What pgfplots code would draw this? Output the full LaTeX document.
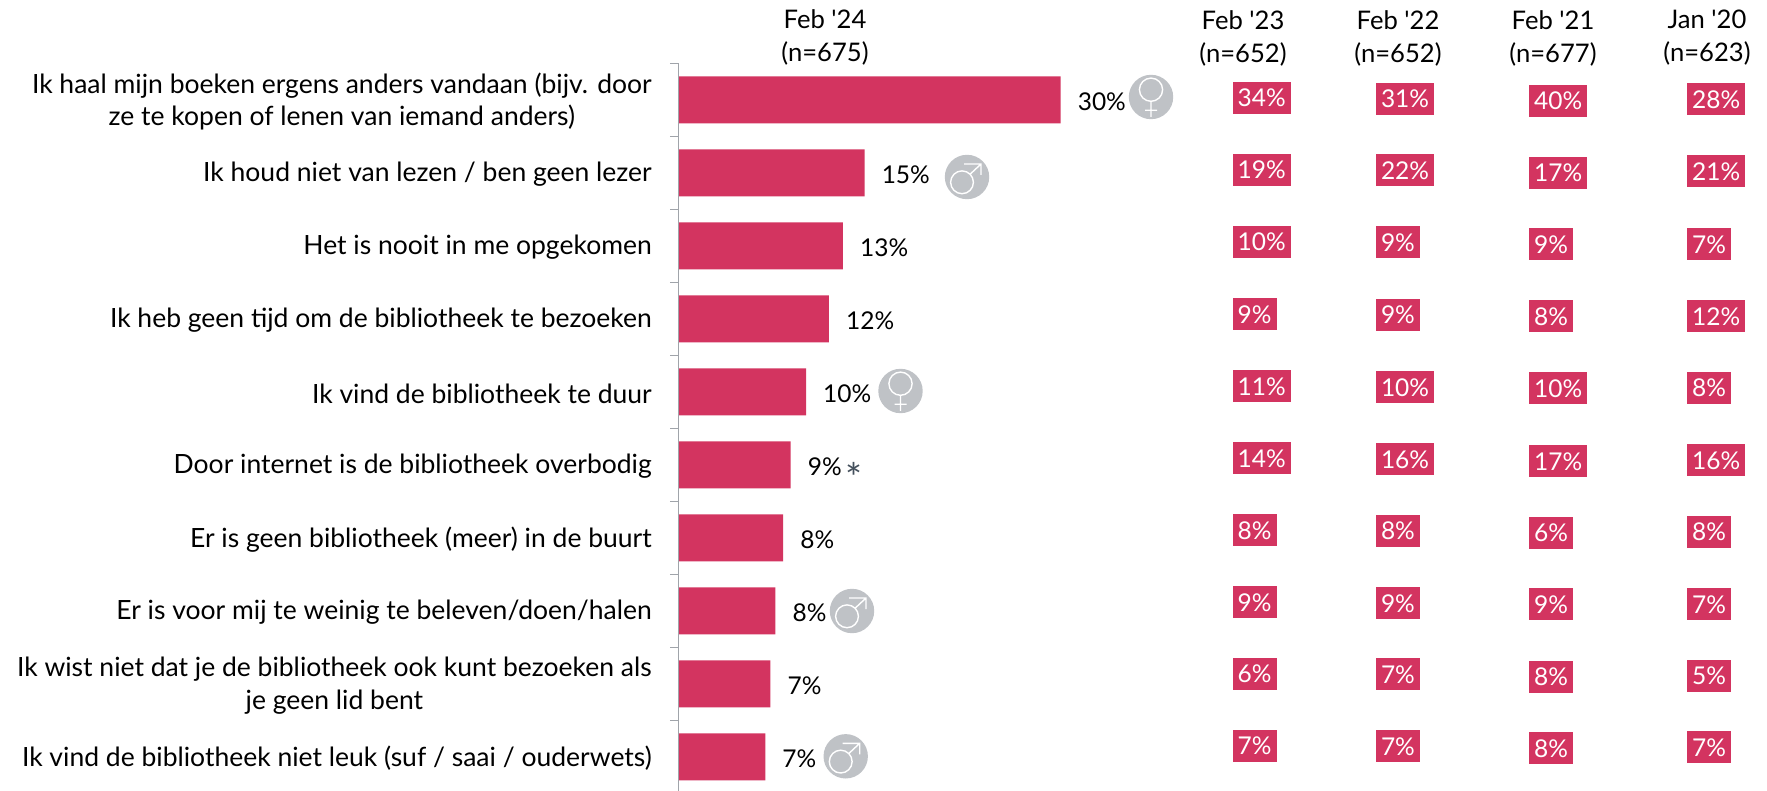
\documentclass[border=0pt]{standalone}
\usepackage{pgfplots}
\pgfplotsset{compat=1.18}
\usepackage{pgfplotstable}
\usepackage{fontspec}
\setmainfont{Lato}
\definecolor{crimson}{HTML}{D33460}
\definecolor{axisgrey}{HTML}{A0A4AA}
\definecolor{icongrey}{HTML}{BFC2C6}
\definecolor{stargrey}{HTML}{44505C}
\newcommand{\lab}{\fontsize{26.5}{32.4}\selectfont}
\newcommand{\num}{\fontsize{24.5}{30}\selectfont}
\newcommand{\head}{\fontsize{25.6}{33}\selectfont}
\pgfdeclareplotmark{venus}{%
  \pgfsetfillcolor{icongrey}\pgfpathcircle{\pgfpointorigin}{22.2pt}\pgfusepath{fill}%
  \pgfsetstrokecolor{white}\pgfsetlinewidth{1.4pt}%
  \pgfpathcircle{\pgfqpoint{0pt}{7.3pt}}{11.6pt}%
  \pgfpathmoveto{\pgfqpoint{0pt}{-4.3pt}}\pgfpathlineto{\pgfqpoint{0pt}{-20pt}}%
  \pgfpathmoveto{\pgfqpoint{-6pt}{-13.3pt}}\pgfpathlineto{\pgfqpoint{6pt}{-13.3pt}}%
  \pgfusepath{stroke}}
\pgfdeclareplotmark{mars}{%
  \pgfsetfillcolor{icongrey}\pgfpathcircle{\pgfpointorigin}{22.2pt}\pgfusepath{fill}%
  \pgfsetstrokecolor{white}\pgfsetlinewidth{1.4pt}%
  \pgfpathcircle{\pgfqpoint{-5pt}{-5.3pt}}{11.4pt}%
  \pgfpathmoveto{\pgfqpoint{3pt}{2.7pt}}\pgfpathlineto{\pgfqpoint{14pt}{13pt}}%
  \pgfpathmoveto{\pgfqpoint{-3pt}{13pt}}\pgfpathlineto{\pgfqpoint{14pt}{13pt}}\pgfpathlineto{\pgfqpoint{14pt}{2pt}}%
  \pgfusepath{stroke}}
\pgfplotsset{cell/.style={only marks, mark=none, point meta=explicit,
  nodes near coords={\pgfmathprintnumber[fixed,precision=0,assume math mode=true]{\pgfplotspointmeta}\%},
  every node near coord/.append style={font=\num, text=white, fill=crimson, anchor=west,
    inner xsep=5pt, inner ysep=0pt, minimum height=32pt, text height=18pt, text depth=0pt}}}
\pgfplotstableread{
x y v
1232.5 98 34
1232.5 170 19
1232.5 242 10
1232.5 314.3 9
1232.5 386.3 11
1232.5 458.3 14
1232.5 530 8
1232.5 602 9
1232.5 673.8 6
1232.5 745.7 7
}\febtwothree
\pgfplotstableread{
x y v
1375.8 98.7 31
1375.8 170.4 22
1375.8 242.3 9
1375.8 315 9
1375.8 387 10
1375.8 459.3 16
1375.8 530.5 8
1375.8 603 9
1375.8 674.3 7
1375.8 746.3 7
}\febtwotwo
\pgfplotstableread{
x y v
1529 100.7 40
1529 172.7 17
1529 244.3 9
1529 316.3 8
1529 388.3 10
1529 461 17
1529 532.7 6
1529 604 9
1529 676.5 8
1529 748.3 8
}\febtwoone
\pgfplotstableread{
x y v
1687 99.5 28
1687 171.3 21
1687 244.3 7
1687 316.3 12
1687 388 8
1687 460 16
1687 531.7 8
1687 604 7
1687 675.8 5
1687 747.3 7
}\jantwozero
\begin{document}
\begin{tikzpicture}
\path[use as bounding box] (0,0) rectangle (1767pt,791pt);
\begin{axis}[
  at={(678.7pt,0pt)}, anchor=south west,
  scale only axis, width=1088.3pt, height=727.5pt,
  xmin=0, xmax=85.49, ymin=0, ymax=9.966,
  y dir=reverse, clip=false, axis on top,
  axis x line=none, axis y line=left,
  axis line style={-, draw=axisgrey, line width=1.4pt},
  xbar, bar width=47pt,
  xtick=\empty,
  ytick={0.5,1.5,2.5,3.5,4.5,5.5,6.5,7.5,8.5,9.5},
  minor ytick={0,1,2,3,4,5,6,7,8,9},
  major tick length=0pt, minor tick length=8.7pt,
  tick align=outside,
  minor tick style={draw=axisgrey, line width=1.4pt},
  yticklabels={
    {Ik haal mijn boeken ergens anders vandaan (bijv. door\\ze te kopen of lenen van iemand anders)},
    {Ik houd niet van lezen / ben geen lezer},
    {Het is nooit in me opgekomen},
    {Ik heb geen tijd om de bibliotheek te bezoeken},
    {Ik vind de bibliotheek te duur},
    {Door internet is de bibliotheek overbodig},
    {Er is geen bibliotheek (meer) in de buurt},
    {Er is voor mij te weinig te beleven/doen/halen},
    {Ik wist niet dat je de bibliotheek ook kunt bezoeken als\\je geen lid bent},
    {Ik vind de bibliotheek niet leuk (suf / saai / ouderwets)}},
  yticklabel style={font=\lab, align=center, anchor=east, inner sep=0pt, xshift=-26.7pt, yshift=-1.5pt},
  point meta=x,
  nodes near coords={\pgfmathprintnumber[fixed,precision=0,assume math mode=true]{\pgfplotspointmeta}\%},
  every node near coord/.append style={font=\num, text=black, anchor=west, inner sep=0pt, xshift=17pt, yshift=-2pt},
]
\addplot[fill=crimson, draw=none] coordinates {
  (30.0,0.5) (14.6,1.5) (12.9,2.5) (11.8,3.5) (10.0,4.5)
  (8.8,5.5) (8.2,6.5) (7.6,7.5) (7.2,8.5) (6.8,9.5)};
\end{axis}
\begin{axis}[
  at={(0pt,0pt)}, anchor=south west,
  scale only axis, width=1767pt, height=791pt,
  xmin=0, xmax=1767, ymin=0, ymax=791,
  y dir=reverse, clip=false, hide axis,
]
\addplot[cell] table[x=x,y=y,meta=v] {\febtwothree};
\addplot[cell] table[x=x,y=y,meta=v] {\febtwotwo};
\addplot[cell] table[x=x,y=y,meta=v] {\febtwoone};
\addplot[cell] table[x=x,y=y,meta=v] {\jantwozero};
\addplot[only marks, mark=venus] coordinates {(1151,97) (900.5,391)};
\addplot[only marks, mark=mars] coordinates {(967,177) (852,611) (845.7,756.3)};
\node[font=\head, align=center] at (axis cs:825,37) {Feb \textquotesingle 24\\(n=675)};
\node[font=\head, align=center] at (axis cs:1243,38) {Feb \textquotesingle 23\\(n=652)};
\node[font=\head, align=center] at (axis cs:1398,38) {Feb \textquotesingle 22\\(n=652)};
\node[font=\head, align=center] at (axis cs:1553,38) {Feb \textquotesingle 21\\(n=677)};
\node[font=\head, align=center] at (axis cs:1707,38) {Jan \textquotesingle 20\\(n=623)};
\node[font=\fontsize{40}{40}\selectfont, text=stargrey] at (axis cs:854,477) {*};
\end{axis}
\end{tikzpicture}
\end{document}
